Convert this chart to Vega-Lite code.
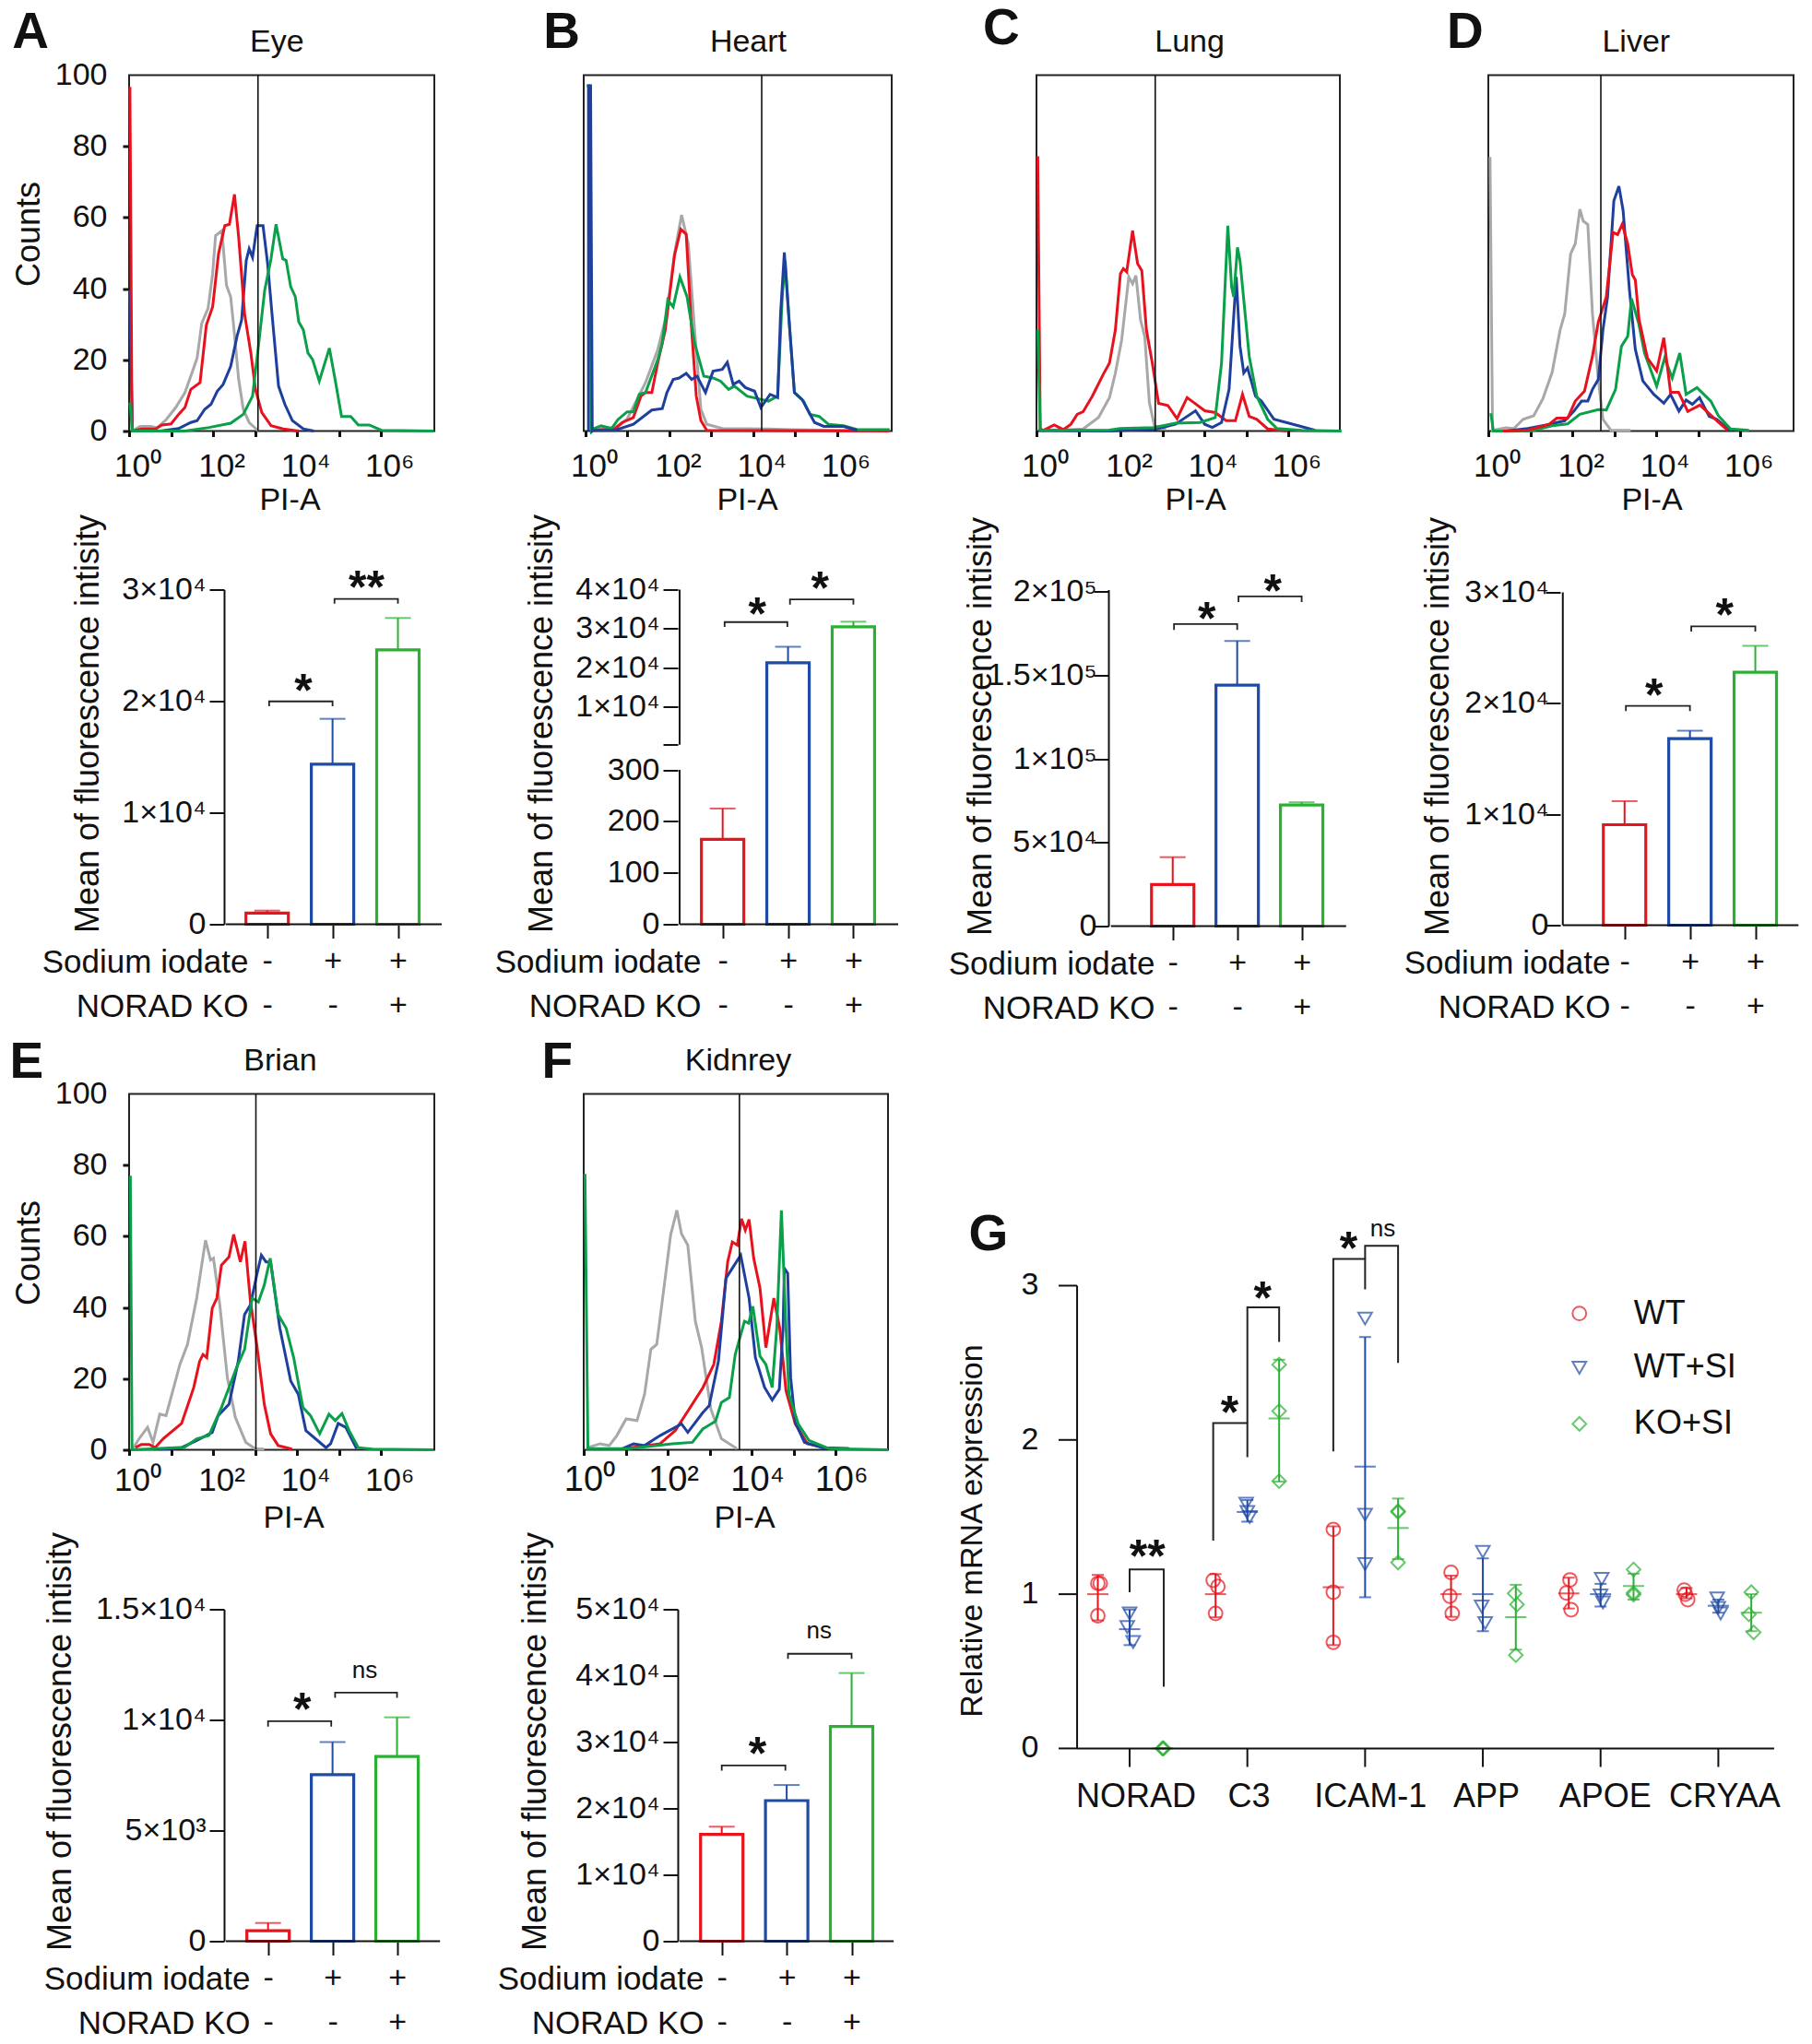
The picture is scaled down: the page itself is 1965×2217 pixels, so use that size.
{"$schema":"https://vega.github.io/schema/vega-lite/v6.json","background":"white","padding":{"left":9,"top":2.5,"right":0,"bottom":0},"columns":4,"spacing":{"row":172,"column":145},"bounds":"flush","align":"each","center":false,
"resolve":{"scale":{"color":"independent","shape":"independent"}},
"config":{"font":"Liberation Sans","view":{"stroke":null},"axis":{"grid":false,"labelOverlap":false,"labelBound":false,"labelFlush":false,"labelColor":"#111","titleColor":"#111","tickColor":"#111","domainColor":"#111","titleFontWeight":"normal"},"text":{"color":"#111"}},
"datasets":{
"eye":[{"s":"gray","x":0.08,"y":0},{"s":"gray","x":0.26,"y":1.3},{"s":"gray","x":0.52,"y":1.3},{"s":"gray","x":0.67,"y":0.9},{"s":"gray","x":0.89,"y":3.3},{"s":"gray","x":1.11,"y":6.6},{"s":"gray","x":1.33,"y":10.8},{"s":"gray","x":1.51,"y":16.8},{"s":"gray","x":1.62,"y":20.5},{"s":"gray","x":1.73,"y":30.3},{"s":"gray","x":1.88,"y":34.4},{"s":"gray","x":1.99,"y":44.2},{"s":"gray","x":2.06,"y":54.9},{"s":"gray","x":2.21,"y":56.3},{"s":"gray","x":2.32,"y":40.9},{"s":"gray","x":2.42,"y":37.7},{"s":"gray","x":2.5,"y":28.4},{"s":"gray","x":2.61,"y":14.5},{"s":"gray","x":2.72,"y":6.1},{"s":"gray","x":2.86,"y":2.4},{"s":"gray","x":3.08,"y":0},
{"s":"blue","x":0.01,"y":39.6},{"s":"blue","x":0.08,"y":0},{"s":"blue","x":0.74,"y":0},{"s":"blue","x":1.18,"y":0.7},{"s":"blue","x":1.47,"y":2.4},{"s":"blue","x":1.62,"y":2.9},{"s":"blue","x":1.8,"y":6.1},{"s":"blue","x":1.95,"y":7.5},{"s":"blue","x":2.1,"y":11.2},{"s":"blue","x":2.24,"y":13.1},{"s":"blue","x":2.42,"y":18.2},{"s":"blue","x":2.57,"y":26.6},{"s":"blue","x":2.68,"y":31.2},{"s":"blue","x":2.79,"y":47.9},{"s":"blue","x":2.86,"y":51.2},{"s":"blue","x":2.94,"y":48.8},{"s":"blue","x":3.05,"y":57.7},{"s":"blue","x":3.19,"y":57.7},{"s":"blue","x":3.3,"y":47},{"s":"blue","x":3.41,"y":32.1},{"s":"blue","x":3.56,"y":12.6},{"s":"blue","x":3.71,"y":7.5},{"s":"blue","x":3.89,"y":2.9},{"s":"blue","x":4.15,"y":0.6},{"s":"blue","x":4.4,"y":0},
{"s":"red","x":0.02,"y":96.7},{"s":"red","x":0.07,"y":0},{"s":"red","x":0.3,"y":0.6},{"s":"red","x":0.63,"y":0.6},{"s":"red","x":0.78,"y":1.7},{"s":"red","x":1,"y":2},{"s":"red","x":1.18,"y":4.7},{"s":"red","x":1.33,"y":6.6},{"s":"red","x":1.47,"y":11.7},{"s":"red","x":1.69,"y":13.6},{"s":"red","x":1.84,"y":29.8},{"s":"red","x":1.99,"y":34.9},{"s":"red","x":2.13,"y":49.8},{"s":"red","x":2.28,"y":57.7},{"s":"red","x":2.39,"y":58.1},{"s":"red","x":2.51,"y":66.5},{"s":"red","x":2.61,"y":54.4},{"s":"red","x":2.75,"y":33},{"s":"red","x":2.9,"y":21.9},{"s":"red","x":3.01,"y":11.7},{"s":"red","x":3.16,"y":5.2},{"s":"red","x":3.38,"y":1.5},{"s":"red","x":3.67,"y":0.6},{"s":"red","x":4.04,"y":0},
{"s":"green","x":0.02,"y":8},{"s":"green","x":0.08,"y":0},{"s":"green","x":1.33,"y":0},{"s":"green","x":1.91,"y":1},{"s":"green","x":2.42,"y":2.2},{"s":"green","x":2.72,"y":4.7},{"s":"green","x":2.94,"y":9.8},{"s":"green","x":3.08,"y":23.8},{"s":"green","x":3.23,"y":39.6},{"s":"green","x":3.38,"y":48.4},{"s":"green","x":3.5,"y":58.1},{"s":"green","x":3.66,"y":48.4},{"s":"green","x":3.74,"y":47.9},{"s":"green","x":3.85,"y":40.5},{"s":"green","x":3.96,"y":37.7},{"s":"green","x":4.04,"y":30.7},{"s":"green","x":4.15,"y":28.4},{"s":"green","x":4.26,"y":21.9},{"s":"green","x":4.37,"y":20.1},{"s":"green","x":4.53,"y":14},{"s":"green","x":4.77,"y":23.3},{"s":"green","x":4.92,"y":13.6},{"s":"green","x":5.06,"y":4.1},{"s":"green","x":5.28,"y":4.1},{"s":"green","x":5.46,"y":1.7},{"s":"green","x":5.72,"y":1.7},{"s":"green","x":6.01,"y":0.2},{"s":"green","x":7.26,"y":0}],
"heart":[{"s":"gray","x":0.18,"y":0.6},{"s":"gray","x":0.7,"y":1},{"s":"gray","x":0.99,"y":3.3},{"s":"gray","x":1.43,"y":13.6},{"s":"gray","x":1.72,"y":22.8},{"s":"gray","x":1.94,"y":33},{"s":"gray","x":2.12,"y":49.8},{"s":"gray","x":2.29,"y":60.7},{"s":"gray","x":2.45,"y":52.6},{"s":"gray","x":2.6,"y":28.4},{"s":"gray","x":2.75,"y":6.1},{"s":"gray","x":2.89,"y":1.9},{"s":"gray","x":3.26,"y":0.7},{"s":"gray","x":4.36,"y":0.6},{"s":"gray","x":4.87,"y":0.4},{"s":"gray","x":7.25,"y":0},
{"s":"red","x":0.18,"y":0.2},{"s":"red","x":0.7,"y":0.6},{"s":"red","x":0.88,"y":2.4},{"s":"red","x":1.14,"y":3.8},{"s":"red","x":1.32,"y":9.8},{"s":"red","x":1.43,"y":10.8},{"s":"red","x":1.58,"y":10.8},{"s":"red","x":1.72,"y":19.1},{"s":"red","x":1.9,"y":28.4},{"s":"red","x":2.12,"y":49.3},{"s":"red","x":2.27,"y":56.7},{"s":"red","x":2.4,"y":55.3},{"s":"red","x":2.53,"y":28.4},{"s":"red","x":2.64,"y":9.8},{"s":"red","x":2.75,"y":2.9},{"s":"red","x":2.89,"y":0.2},{"s":"red","x":7.25,"y":0},
{"s":"green","x":0.03,"y":97},{"s":"green","x":0.08,"y":97},{"s":"green","x":0.14,"y":0},{"s":"green","x":0.18,"y":0.6},{"s":"green","x":0.37,"y":1.5},{"s":"green","x":0.62,"y":0.7},{"s":"green","x":0.77,"y":3.2},{"s":"green","x":0.99,"y":5.4},{"s":"green","x":1.14,"y":5.4},{"s":"green","x":1.28,"y":10.3},{"s":"green","x":1.43,"y":10.8},{"s":"green","x":1.72,"y":20},{"s":"green","x":1.83,"y":24.7},{"s":"green","x":1.96,"y":36.8},{"s":"green","x":2.09,"y":34.9},{"s":"green","x":2.25,"y":43.3},{"s":"green","x":2.42,"y":37.7},{"s":"green","x":2.6,"y":24.7},{"s":"green","x":2.82,"y":15.4},{"s":"green","x":3.04,"y":14.9},{"s":"green","x":3.22,"y":14},{"s":"green","x":3.41,"y":11.7},{"s":"green","x":3.55,"y":12.6},{"s":"green","x":3.85,"y":9.8},{"s":"green","x":4.18,"y":8.9},{"s":"green","x":4.36,"y":8.4},{"s":"green","x":4.58,"y":9.8},{"s":"green","x":4.69,"y":37.7},{"s":"green","x":4.76,"y":47.9},{"s":"green","x":4.87,"y":28.4},{"s":"green","x":4.98,"y":10.8},{"s":"green","x":5.2,"y":8.4},{"s":"green","x":5.35,"y":4.7},{"s":"green","x":5.57,"y":4.1},{"s":"green","x":5.79,"y":1.9},{"s":"green","x":6.15,"y":1.5},{"s":"green","x":6.48,"y":0.4},{"s":"green","x":7.25,"y":0.4},
{"s":"blue","x":0.07,"y":0},{"s":"blue","x":0.07,"y":97},{"s":"blue","x":0.12,"y":97},{"s":"blue","x":0.16,"y":0},{"s":"blue","x":0.18,"y":0.2},{"s":"blue","x":0.7,"y":0.2},{"s":"blue","x":1.14,"y":1.9},{"s":"blue","x":1.58,"y":5.9},{"s":"blue","x":1.83,"y":6.3},{"s":"blue","x":1.94,"y":10.8},{"s":"blue","x":2.09,"y":14.5},{"s":"blue","x":2.23,"y":14.9},{"s":"blue","x":2.4,"y":16.2},{"s":"blue","x":2.53,"y":14.5},{"s":"blue","x":2.66,"y":15.4},{"s":"blue","x":2.86,"y":10.8},{"s":"blue","x":3.04,"y":16.8},{"s":"blue","x":3.26,"y":17.3},{"s":"blue","x":3.38,"y":19.3},{"s":"blue","x":3.52,"y":13.1},{"s":"blue","x":3.66,"y":14},{"s":"blue","x":3.81,"y":12.2},{"s":"blue","x":4.03,"y":11.2},{"s":"blue","x":4.18,"y":6.6},{"s":"blue","x":4.4,"y":10.3},{"s":"blue","x":4.58,"y":9.4},{"s":"blue","x":4.65,"y":33},{"s":"blue","x":4.74,"y":50.2},{"s":"blue","x":4.84,"y":33},{"s":"blue","x":4.98,"y":10.8},{"s":"blue","x":5.16,"y":8.9},{"s":"blue","x":5.46,"y":2.4},{"s":"blue","x":5.68,"y":1.3},{"s":"blue","x":6.15,"y":1.3},{"s":"blue","x":6.48,"y":0.2}],
"lung":[{"s":"gray","x":0.23,"y":0},{"s":"gray","x":1.11,"y":0.6},{"s":"gray","x":1.48,"y":3.8},{"s":"gray","x":1.74,"y":9.4},{"s":"gray","x":1.88,"y":16.3},{"s":"gray","x":2.03,"y":25.6},{"s":"gray","x":2.2,"y":43.3},{"s":"gray","x":2.29,"y":41.4},{"s":"gray","x":2.37,"y":43.7},{"s":"gray","x":2.48,"y":31.2},{"s":"gray","x":2.58,"y":26.6},{"s":"gray","x":2.69,"y":8},{"s":"gray","x":2.81,"y":1.5},{"s":"gray","x":3.09,"y":0.6},
{"s":"red","x":0.03,"y":77.2},{"s":"red","x":0.09,"y":0.6},{"s":"red","x":0.16,"y":0.2},{"s":"red","x":0.42,"y":1.7},{"s":"red","x":0.64,"y":0.4},{"s":"red","x":0.82,"y":1.9},{"s":"red","x":0.97,"y":4.7},{"s":"red","x":1.11,"y":5.4},{"s":"red","x":1.33,"y":9.8},{"s":"red","x":1.59,"y":15.9},{"s":"red","x":1.74,"y":19.1},{"s":"red","x":1.88,"y":28.4},{"s":"red","x":2,"y":44.2},{"s":"red","x":2.07,"y":45.6},{"s":"red","x":2.15,"y":44.7},{"s":"red","x":2.29,"y":56.3},{"s":"red","x":2.41,"y":47},{"s":"red","x":2.51,"y":45.1},{"s":"red","x":2.62,"y":28.4},{"s":"red","x":2.76,"y":19.1},{"s":"red","x":2.91,"y":7.8},{"s":"red","x":3.13,"y":7.2},{"s":"red","x":3.35,"y":3.5},{"s":"red","x":3.59,"y":9.4},{"s":"red","x":3.75,"y":8},{"s":"red","x":4.01,"y":5.7},{"s":"red","x":4.26,"y":5.2},{"s":"red","x":4.52,"y":2.9},{"s":"red","x":4.74,"y":2.9},{"s":"red","x":4.91,"y":10.3},{"s":"red","x":5.07,"y":4.1},{"s":"red","x":5.25,"y":3.3},{"s":"red","x":5.51,"y":0.6},{"s":"red","x":5.99,"y":0},
{"s":"blue","x":0.05,"y":0.2},{"s":"blue","x":1.7,"y":0},{"s":"blue","x":2.87,"y":0.6},{"s":"blue","x":3.31,"y":1.9},{"s":"blue","x":3.79,"y":5.7},{"s":"blue","x":4.01,"y":1.9},{"s":"blue","x":4.19,"y":1},{"s":"blue","x":4.41,"y":2.4},{"s":"blue","x":4.59,"y":11.7},{"s":"blue","x":4.76,"y":43.3},{"s":"blue","x":4.85,"y":23.8},{"s":"blue","x":4.94,"y":16.3},{"s":"blue","x":5.03,"y":17.7},{"s":"blue","x":5.22,"y":9.8},{"s":"blue","x":5.36,"y":8.4},{"s":"blue","x":5.66,"y":3.3},{"s":"blue","x":6.24,"y":1.5},{"s":"blue","x":6.64,"y":0.2},
{"s":"green","x":0.03,"y":28.4},{"s":"green","x":0.09,"y":0.2},{"s":"green","x":1.7,"y":0.2},{"s":"green","x":1.99,"y":0.7},{"s":"green","x":2.8,"y":1},{"s":"green","x":3.31,"y":2.2},{"s":"green","x":3.9,"y":2.4},{"s":"green","x":4.26,"y":3.8},{"s":"green","x":4.41,"y":19.1},{"s":"green","x":4.56,"y":57.7},{"s":"green","x":4.65,"y":40.5},{"s":"green","x":4.7,"y":37.7},{"s":"green","x":4.79,"y":51.6},{"s":"green","x":4.85,"y":47.9},{"s":"green","x":5.07,"y":21},{"s":"green","x":5.25,"y":9.8},{"s":"green","x":5.51,"y":3.3},{"s":"green","x":5.73,"y":0.7},{"s":"green","x":6.32,"y":0.2},{"s":"green","x":7.27,"y":0}],
"liver":[{"s":"gray","x":0.04,"y":77},{"s":"gray","x":0.1,"y":0.2},{"s":"gray","x":0.42,"y":0.9},{"s":"gray","x":0.61,"y":0.7},{"s":"gray","x":0.83,"y":3.3},{"s":"gray","x":1.08,"y":4.3},{"s":"gray","x":1.3,"y":9.1},{"s":"gray","x":1.52,"y":16.5},{"s":"gray","x":1.71,"y":28.4},{"s":"gray","x":1.82,"y":33},{"s":"gray","x":1.96,"y":49.8},{"s":"gray","x":2.07,"y":52.6},{"s":"gray","x":2.18,"y":62.3},{"s":"gray","x":2.26,"y":59},{"s":"gray","x":2.37,"y":58},{"s":"gray","x":2.48,"y":33},{"s":"gray","x":2.62,"y":14.5},{"s":"gray","x":2.73,"y":3.3},{"s":"gray","x":2.92,"y":0.2},{"s":"gray","x":3.39,"y":0.2},
{"s":"blue","x":0.42,"y":0},{"s":"blue","x":0.94,"y":0.7},{"s":"blue","x":1.38,"y":1.7},{"s":"blue","x":1.82,"y":2.9},{"s":"blue","x":2.04,"y":5.6},{"s":"blue","x":2.22,"y":8.4},{"s":"blue","x":2.37,"y":8.4},{"s":"blue","x":2.48,"y":11.7},{"s":"blue","x":2.62,"y":14.5},{"s":"blue","x":2.73,"y":28.4},{"s":"blue","x":2.84,"y":37.7},{"s":"blue","x":2.99,"y":64.7},{"s":"blue","x":3.11,"y":68.8},{"s":"blue","x":3.21,"y":62},{"s":"blue","x":3.36,"y":39.8},{"s":"blue","x":3.5,"y":23},{"s":"blue","x":3.68,"y":14.1},{"s":"blue","x":3.94,"y":10.3},{"s":"blue","x":4.18,"y":7.8},{"s":"blue","x":4.34,"y":10.3},{"s":"blue","x":4.54,"y":5.6},{"s":"blue","x":4.71,"y":8.7},{"s":"blue","x":4.86,"y":7.5},{"s":"blue","x":5.03,"y":9.4},{"s":"blue","x":5.26,"y":4.1},{"s":"blue","x":5.44,"y":3.3},{"s":"blue","x":5.77,"y":0},
{"s":"green","x":0.06,"y":5},{"s":"green","x":0.12,"y":0},{"s":"green","x":1.01,"y":0},{"s":"green","x":1.52,"y":1.5},{"s":"green","x":1.89,"y":2},{"s":"green","x":2.18,"y":4.7},{"s":"green","x":2.62,"y":6},{"s":"green","x":2.81,"y":5.9},{"s":"green","x":3.03,"y":11.7},{"s":"green","x":3.17,"y":23.8},{"s":"green","x":3.32,"y":26.6},{"s":"green","x":3.41,"y":37.2},{"s":"green","x":3.58,"y":30.3},{"s":"green","x":3.72,"y":21.9},{"s":"green","x":4.01,"y":12.6},{"s":"green","x":4.2,"y":20.5},{"s":"green","x":4.38,"y":14.9},{"s":"green","x":4.56,"y":21.9},{"s":"green","x":4.71,"y":10.3},{"s":"green","x":4.97,"y":12.2},{"s":"green","x":5.3,"y":8.4},{"s":"green","x":5.48,"y":4.3},{"s":"green","x":5.77,"y":0.6},{"s":"green","x":6.21,"y":0.2},
{"s":"red","x":0.35,"y":0},{"s":"red","x":0.94,"y":0.2},{"s":"red","x":1.45,"y":1.9},{"s":"red","x":1.63,"y":3.6},{"s":"red","x":1.89,"y":3.6},{"s":"red","x":2.07,"y":8.4},{"s":"red","x":2.29,"y":11.2},{"s":"red","x":2.48,"y":21},{"s":"red","x":2.62,"y":30.7},{"s":"red","x":2.81,"y":37.7},{"s":"red","x":2.97,"y":55.8},{"s":"red","x":3.08,"y":55.2},{"s":"red","x":3.19,"y":58.1},{"s":"red","x":3.32,"y":52.6},{"s":"red","x":3.43,"y":43.9},{"s":"red","x":3.5,"y":42.5},{"s":"red","x":3.59,"y":31.3},{"s":"red","x":3.79,"y":20.5},{"s":"red","x":4.01,"y":16.9},{"s":"red","x":4.18,"y":26.2},{"s":"red","x":4.34,"y":10.9},{"s":"red","x":4.53,"y":10.9},{"s":"red","x":4.75,"y":5.5},{"s":"red","x":5.04,"y":7.3},{"s":"red","x":5.26,"y":4.9},{"s":"red","x":5.48,"y":2.5},{"s":"red","x":5.7,"y":0.2}],
"brain":[{"s":"gray","x":0.07,"y":0},{"s":"gray","x":0.26,"y":3.5},{"s":"gray","x":0.44,"y":6.3},{"s":"gray","x":0.57,"y":2.1},{"s":"gray","x":0.73,"y":10},{"s":"gray","x":0.88,"y":9.6},{"s":"gray","x":1.03,"y":16.1},{"s":"gray","x":1.21,"y":24},{"s":"gray","x":1.39,"y":29.6},{"s":"gray","x":1.61,"y":42.6},{"s":"gray","x":1.82,"y":58.9},{"s":"gray","x":1.94,"y":53.3},{"s":"gray","x":2.01,"y":53.8},{"s":"gray","x":2.16,"y":40.7},{"s":"gray","x":2.34,"y":20.3},{"s":"gray","x":2.53,"y":9.1},{"s":"gray","x":2.78,"y":2.1},{"s":"gray","x":3,"y":0.3},{"s":"gray","x":3.22,"y":0.2},
{"s":"red","x":0.15,"y":0.6},{"s":"red","x":0.29,"y":1.5},{"s":"red","x":0.48,"y":1.5},{"s":"red","x":0.62,"y":0.6},{"s":"red","x":0.81,"y":3.1},{"s":"red","x":1.25,"y":7.4},{"s":"red","x":1.54,"y":17.5},{"s":"red","x":1.68,"y":24.9},{"s":"red","x":1.76,"y":26.8},{"s":"red","x":1.85,"y":25.9},{"s":"red","x":1.98,"y":39.8},{"s":"red","x":2.09,"y":42.6},{"s":"red","x":2.2,"y":51.9},{"s":"red","x":2.38,"y":54.2},{"s":"red","x":2.49,"y":60.5},{"s":"red","x":2.65,"y":52.8},{"s":"red","x":2.76,"y":58.6},{"s":"red","x":2.89,"y":41.7},{"s":"red","x":3.04,"y":29.6},{"s":"red","x":3.22,"y":12.8},{"s":"red","x":3.37,"y":4.5},{"s":"red","x":3.55,"y":1.2},{"s":"red","x":3.88,"y":0.2},
{"s":"blue","x":0.73,"y":0.2},{"s":"blue","x":1.25,"y":0.6},{"s":"blue","x":1.61,"y":2.6},{"s":"blue","x":1.98,"y":4.9},{"s":"blue","x":2.12,"y":9.6},{"s":"blue","x":2.38,"y":12.8},{"s":"blue","x":2.6,"y":24.9},{"s":"blue","x":2.75,"y":38},{"s":"blue","x":2.89,"y":40.7},{"s":"blue","x":3.04,"y":49.1},{"s":"blue","x":3.15,"y":54.7},{"s":"blue","x":3.26,"y":52.8},{"s":"blue","x":3.37,"y":52.8},{"s":"blue","x":3.59,"y":34.2},{"s":"blue","x":3.85,"y":19.3},{"s":"blue","x":4.03,"y":15.6},{"s":"blue","x":4.21,"y":5.4},{"s":"blue","x":4.69,"y":0.6},{"s":"blue","x":4.8,"y":1.7},{"s":"blue","x":4.98,"y":7.4},{"s":"blue","x":5.16,"y":6.3},{"s":"blue","x":5.42,"y":0.3},
{"s":"green","x":0.03,"y":77},{"s":"green","x":0.07,"y":0},{"s":"green","x":1.32,"y":0.7},{"s":"green","x":1.61,"y":3.1},{"s":"green","x":1.9,"y":4},{"s":"green","x":2.2,"y":11.9},{"s":"green","x":2.56,"y":23.1},{"s":"green","x":2.75,"y":28.2},{"s":"green","x":2.93,"y":42.6},{"s":"green","x":3.08,"y":41.5},{"s":"green","x":3.22,"y":46.3},{"s":"green","x":3.36,"y":53.8},{"s":"green","x":3.55,"y":38},{"s":"green","x":3.74,"y":34.2},{"s":"green","x":3.92,"y":25.9},{"s":"green","x":4.14,"y":11.9},{"s":"green","x":4.32,"y":9.6},{"s":"green","x":4.54,"y":4.5},{"s":"green","x":4.76,"y":10},{"s":"green","x":4.91,"y":8.2},{"s":"green","x":5.07,"y":10.2},{"s":"green","x":5.24,"y":5.4},{"s":"green","x":5.46,"y":0.6},{"s":"green","x":5.79,"y":0.2},{"s":"green","x":7.25,"y":0}],
"kidney":[{"s":"gray","x":0.1,"y":0.6},{"s":"gray","x":0.39,"y":1.7},{"s":"gray","x":0.61,"y":1.2},{"s":"gray","x":0.79,"y":4},{"s":"gray","x":1.01,"y":8.7},{"s":"gray","x":1.27,"y":8.2},{"s":"gray","x":1.45,"y":15.6},{"s":"gray","x":1.6,"y":28.2},{"s":"gray","x":1.74,"y":29.6},{"s":"gray","x":1.89,"y":43.5},{"s":"gray","x":2.07,"y":60.3},{"s":"gray","x":2.22,"y":67.3},{"s":"gray","x":2.33,"y":60.7},{"s":"gray","x":2.48,"y":57.5},{"s":"gray","x":2.66,"y":36.1},{"s":"gray","x":2.81,"y":28.7},{"s":"gray","x":3.03,"y":11.4},{"s":"gray","x":3.28,"y":3.1},{"s":"gray","x":3.65,"y":0.3},
{"s":"red","x":0.94,"y":0.3},{"s":"red","x":1.82,"y":1.7},{"s":"red","x":2.18,"y":5.4},{"s":"red","x":2.51,"y":11.4},{"s":"red","x":2.84,"y":17.5},{"s":"red","x":3.1,"y":24},{"s":"red","x":3.28,"y":36.1},{"s":"red","x":3.43,"y":52.8},{"s":"red","x":3.54,"y":58.4},{"s":"red","x":3.66,"y":57.5},{"s":"red","x":3.76,"y":64.9},{"s":"red","x":3.85,"y":61.7},{"s":"red","x":3.94,"y":64.7},{"s":"red","x":4.05,"y":53.8},{"s":"red","x":4.2,"y":45.4},{"s":"red","x":4.34,"y":28.7},{"s":"red","x":4.53,"y":42.6},{"s":"red","x":4.67,"y":34.2},{"s":"red","x":4.82,"y":16.6},{"s":"red","x":5.04,"y":7.3},{"s":"red","x":5.33,"y":1.7},{"s":"red","x":5.77,"y":0.6},{"s":"red","x":6.32,"y":0.4},
{"s":"blue","x":0.94,"y":0.4},{"s":"blue","x":1.19,"y":1.7},{"s":"blue","x":1.45,"y":1.2},{"s":"blue","x":1.82,"y":4},{"s":"blue","x":2.33,"y":7.3},{"s":"blue","x":2.48,"y":4.9},{"s":"blue","x":2.84,"y":10.5},{"s":"blue","x":2.99,"y":12.4},{"s":"blue","x":3.21,"y":24.9},{"s":"blue","x":3.39,"y":48.2},{"s":"blue","x":3.54,"y":51},{"s":"blue","x":3.74,"y":54.7},{"s":"blue","x":3.94,"y":42.6},{"s":"blue","x":4.09,"y":25.9},{"s":"blue","x":4.31,"y":17.5},{"s":"blue","x":4.49,"y":14},{"s":"blue","x":4.66,"y":17},{"s":"blue","x":4.75,"y":34.2},{"s":"blue","x":4.78,"y":51},{"s":"blue","x":4.86,"y":49.6},{"s":"blue","x":4.93,"y":20.3},{"s":"blue","x":5.04,"y":7.7},{"s":"blue","x":5.26,"y":2.1},{"s":"blue","x":5.77,"y":0.3},
{"s":"green","x":0.03,"y":77.5},{"s":"green","x":0.1,"y":0.3},{"s":"green","x":1.08,"y":0.3},{"s":"green","x":2.11,"y":1.7},{"s":"green","x":2.59,"y":2.1},{"s":"green","x":2.84,"y":5.9},{"s":"green","x":3.14,"y":8},{"s":"green","x":3.28,"y":13.3},{"s":"green","x":3.47,"y":14.7},{"s":"green","x":3.61,"y":26.8},{"s":"green","x":3.83,"y":36.1},{"s":"green","x":3.93,"y":35.6},{"s":"green","x":4.03,"y":40.3},{"s":"green","x":4.2,"y":26.3},{"s":"green","x":4.34,"y":24},{"s":"green","x":4.49,"y":17.5},{"s":"green","x":4.6,"y":34.2},{"s":"green","x":4.71,"y":67.3},{"s":"green","x":4.82,"y":34.2},{"s":"green","x":4.89,"y":15.6},{"s":"green","x":5.11,"y":7.3},{"s":"green","x":5.37,"y":2.6},{"s":"green","x":5.85,"y":0.3},{"s":"green","x":7.25,"y":0}],
"genePoints":[{"g":"WT","x":0.73,"y":1.07},{"g":"WT","x":0.75,"y":1.07},{"g":"WT","x":0.73,"y":0.86},{"g":"WT+SI","x":1,"y":0.875},{"g":"WT+SI","x":0.98,"y":0.787},{"g":"WT+SI","x":1.03,"y":0.69},{"g":"KO+SI","x":1.28,"y":0},{"g":"KO+SI","x":1.29,"y":0},{"g":"KO+SI","x":1.28,"y":0},
{"g":"WT","x":1.71,"y":1.09},{"g":"WT","x":1.75,"y":1.05},{"g":"WT","x":1.73,"y":0.875},{"g":"WT+SI","x":1.99,"y":1.587},{"g":"WT+SI","x":2,"y":1.533},{"g":"WT+SI","x":2.02,"y":1.5},{"g":"KO+SI","x":2.27,"y":2.488},{"g":"KO+SI","x":2.27,"y":2.187},{"g":"KO+SI","x":2.27,"y":1.733},
{"g":"WT","x":2.73,"y":1.42},{"g":"WT","x":2.73,"y":1.013},{"g":"WT","x":2.73,"y":0.688},{"g":"WT+SI","x":3,"y":2.787},{"g":"WT+SI","x":3,"y":1.515},{"g":"WT+SI","x":3,"y":1.195},{"g":"KO+SI","x":3.28,"y":1.539},{"g":"KO+SI","x":3.28,"y":1.533},{"g":"KO+SI","x":3.28,"y":1.205},
{"g":"WT","x":3.73,"y":1.141},{"g":"WT","x":3.72,"y":0.987},{"g":"WT","x":3.74,"y":0.875},{"g":"WT+SI","x":4,"y":1.275},{"g":"WT+SI","x":3.99,"y":0.92},{"g":"WT+SI","x":4.02,"y":0.813},{"g":"KO+SI","x":4.27,"y":1.005},{"g":"KO+SI","x":4.29,"y":0.933},{"g":"KO+SI","x":4.28,"y":0.605},
{"g":"WT","x":4.74,"y":1.093},{"g":"WT","x":4.71,"y":1.008},{"g":"WT","x":4.75,"y":0.899},{"g":"WT+SI","x":5.01,"y":1.099},{"g":"WT+SI","x":5,"y":0.992},{"g":"WT+SI","x":5.02,"y":0.947},{"g":"KO+SI","x":5.28,"y":1.16},{"g":"KO+SI","x":5.28,"y":1.008},{"g":"KO+SI","x":5.28,"y":0.997},
{"g":"WT","x":5.71,"y":1.027},{"g":"WT","x":5.72,"y":1},{"g":"WT","x":5.74,"y":0.965},{"g":"WT+SI","x":5.99,"y":0.973},{"g":"WT+SI","x":6,"y":0.912},{"g":"WT+SI","x":6.02,"y":0.875},{"g":"KO+SI","x":6.28,"y":1.013},{"g":"KO+SI","x":6.26,"y":0.869},{"g":"KO+SI","x":6.3,"y":0.752},
{"g":"WT","x":4.82,"y":2.82},{"g":"WT+SI","x":4.82,"y":2.468},{"g":"KO+SI","x":4.82,"y":2.104}],
"geneStats":[{"g":"WT","x":0.73,"m":1,"lo":0.83,"hi":1.125},{"g":"WT+SI","x":1,"m":0.773,"lo":0.67,"hi":0.9},{"g":"KO+SI","x":1.28,"m":0,"lo":0,"hi":0},
{"g":"WT","x":1.73,"m":1,"lo":0.85,"hi":1.13},{"g":"WT+SI","x":2,"m":1.533,"lo":1.47,"hi":1.61},{"g":"KO+SI","x":2.27,"m":2.139,"lo":1.73,"hi":2.52},
{"g":"WT","x":2.73,"m":1.045,"lo":0.67,"hi":1.44},{"g":"WT+SI","x":3,"m":1.827,"lo":0.98,"hi":2.667},{"g":"KO+SI","x":3.28,"m":1.429,"lo":1.227,"hi":1.62},
{"g":"WT","x":3.73,"m":1,"lo":0.853,"hi":1.12},{"g":"WT+SI","x":4,"m":1,"lo":0.76,"hi":1.232},{"g":"KO+SI","x":4.28,"m":0.851,"lo":0.64,"hi":1.061},
{"g":"WT","x":4.73,"m":1.005,"lo":0.907,"hi":1.107},{"g":"WT+SI","x":5,"m":1,"lo":0.92,"hi":1.067},{"g":"KO+SI","x":5.28,"m":1.053,"lo":0.965,"hi":1.133},
{"g":"WT","x":5.73,"m":1,"lo":0.973,"hi":1.04},{"g":"WT+SI","x":6,"m":0.925,"lo":0.88,"hi":0.965},{"g":"KO+SI","x":6.28,"m":0.88,"lo":0.76,"hi":1}],
"geneBrackets":[{"b":1,"i":1,"x":1,"y":1.013},{"b":1,"i":2,"x":1,"y":1.16},{"b":1,"i":3,"x":1.29,"y":1.16},{"b":1,"i":4,"x":1.29,"y":0.4},
{"b":2,"i":1,"x":1.71,"y":1.347},{"b":2,"i":2,"x":1.71,"y":2.109},{"b":2,"i":3,"x":2,"y":2.109},{"b":2,"i":4,"x":2,"y":1.888},
{"b":3,"i":1,"x":2,"y":2.109},{"b":3,"i":2,"x":2,"y":2.859},{"b":3,"i":3,"x":2.27,"y":2.859},{"b":3,"i":4,"x":2.27,"y":2.635},
{"b":4,"i":1,"x":2.73,"y":1.925},{"b":4,"i":2,"x":2.73,"y":3.173},{"b":4,"i":3,"x":3,"y":3.173},{"b":4,"i":4,"x":3,"y":2.976},
{"b":5,"i":1,"x":3,"y":3.173},{"b":5,"i":2,"x":3,"y":3.259},{"b":5,"i":3,"x":3.28,"y":3.259},{"b":5,"i":4,"x":3.28,"y":2.499}]
},
"concat":[
{"width":331,"height":386,"view":{"stroke":"#222","strokeWidth":2},"layer":[
{"data":{"name":"eye"},"mark":{"type":"line","strokeWidth":3},"encoding":{"x":{"field":"x","type":"quantitative","scale":{"domain":[0,7.27],"nice":false,"zero":false},"axis":{"values":[0,1,2,3,4,5,6],"domain":false,"tickSize":6,"tickWidth":3,"labelFontSize":35,"labelOffset":9,"labelPadding":15,"labelExpr":"datum.value==0?'10⁰':datum.value==2?'10²':datum.value==4?'10⁴':datum.value==6?'10⁶':''","title":"PI-A","titleFontSize":34,"titleX":174,"titleY":75,"titleBaseline":"middle"}},"y":{"field":"y","type":"quantitative","scale":{"domain":[0,100],"nice":false},"axis":{"values":[0,20,40,60,80,100],"domain":false,"tickSize":7,"tickWidth":3,"tickOpacity":{"condition":{"test":"datum.value==100","value":0},"value":1},"labelFontSize":34,"labelPadding":17,"title":"Counts","titleFontSize":36,"titleX":-109,"titleY":172,"titleBaseline":"middle"}},"color":{"field":"s","type":"nominal","legend":null,"scale":{"domain":["gray","red","blue","green"],"range":["#a8a8a8","#e8121e","#1f3f9e","#0aa04a"]}}}},
{"data":{"values":[{"gate":3.07}]},"mark":{"type":"rule","color":"#111","strokeWidth":1.6},"encoding":{"x":{"field":"gate","type":"quantitative"}}},
{"data":{"values":[{"x":3.52,"y":109.3,"t":"Eye"}]},"mark":{"type":"text","fontSize":34,"baseline":"middle"},"encoding":{"x":{"field":"x","type":"quantitative"},"y":{"field":"y","type":"quantitative"},"text":{"field":"t"}}},
{"data":{"values":[{"x":-2.35,"y":112,"t":"A"}]},"mark":{"type":"text","fontWeight":"bold","fontSize":55,"baseline":"middle"},"encoding":{"x":{"field":"x","type":"quantitative"},"y":{"field":"y","type":"quantitative"},"text":{"field":"t"}}}]},
{"width":334,"height":386,"view":{"stroke":"#222","strokeWidth":2},"layer":[
{"data":{"name":"heart"},"mark":{"type":"line","strokeWidth":3},"encoding":{"x":{"field":"x","type":"quantitative","scale":{"domain":[-0.044,7.3],"nice":false,"zero":false},"axis":{"values":[0,1,2,3,4,5,6],"domain":false,"tickSize":6,"tickWidth":3,"labelFontSize":35,"labelOffset":9,"labelPadding":15,"labelExpr":"datum.value==0?'10⁰':datum.value==2?'10²':datum.value==4?'10⁴':datum.value==6?'10⁶':''","title":"PI-A","titleFontSize":34,"titleX":177,"titleY":75,"titleBaseline":"middle"}},"y":{"field":"y","type":"quantitative","scale":{"domain":[0,100],"nice":false},"axis":null},"color":{"field":"s","type":"nominal","legend":null,"scale":{"domain":["gray","red","blue","green"],"range":["#a8a8a8","#e8121e","#1f3f9e","#0aa04a"]}}}},
{"data":{"values":[{"gate":4.2}]},"mark":{"type":"rule","color":"#111","strokeWidth":1.6},"encoding":{"x":{"field":"gate","type":"quantitative"}}},
{"data":{"values":[{"x":3.88,"y":109.3,"t":"Heart"}]},"mark":{"type":"text","fontSize":34,"baseline":"middle"},"encoding":{"x":{"field":"x","type":"quantitative"},"y":{"field":"y","type":"quantitative"},"text":{"field":"t"}}},
{"data":{"values":[{"x":-0.57,"y":112,"t":"B"}]},"mark":{"type":"text","fontWeight":"bold","fontSize":55,"baseline":"middle"},"encoding":{"x":{"field":"x","type":"quantitative"},"y":{"field":"y","type":"quantitative"},"text":{"field":"t"}}}]},
{"width":329,"height":386,"view":{"stroke":"#222","strokeWidth":2},"layer":[
{"data":{"name":"lung"},"mark":{"type":"line","strokeWidth":3},"encoding":{"x":{"field":"x","type":"quantitative","scale":{"domain":[0,7.23],"nice":false,"zero":false},"axis":{"values":[0,1,2,3,4,5,6],"domain":false,"tickSize":6,"tickWidth":3,"labelFontSize":35,"labelOffset":9,"labelPadding":15,"labelExpr":"datum.value==0?'10⁰':datum.value==2?'10²':datum.value==4?'10⁴':datum.value==6?'10⁶':''","title":"PI-A","titleFontSize":34,"titleX":172,"titleY":75,"titleBaseline":"middle"}},"y":{"field":"y","type":"quantitative","scale":{"domain":[0,100],"nice":false},"axis":null},"color":{"field":"s","type":"nominal","legend":null,"scale":{"domain":["gray","red","blue","green"],"range":["#a8a8a8","#e8121e","#1f3f9e","#0aa04a"]}}}},
{"data":{"values":[{"gate":2.83}]},"mark":{"type":"rule","color":"#111","strokeWidth":1.6},"encoding":{"x":{"field":"gate","type":"quantitative"}}},
{"data":{"values":[{"x":3.65,"y":109.3,"t":"Lung"}]},"mark":{"type":"text","fontSize":34,"baseline":"middle"},"encoding":{"x":{"field":"x","type":"quantitative"},"y":{"field":"y","type":"quantitative"},"text":{"field":"t"}}},
{"data":{"values":[{"x":-0.84,"y":113.1,"t":"C"}]},"mark":{"type":"text","fontWeight":"bold","fontSize":55,"baseline":"middle"},"encoding":{"x":{"field":"x","type":"quantitative"},"y":{"field":"y","type":"quantitative"},"text":{"field":"t"}}}]},
{"width":331,"height":386,"view":{"stroke":"#222","strokeWidth":2},"layer":[
{"data":{"name":"liver"},"mark":{"type":"line","strokeWidth":3},"encoding":{"x":{"field":"x","type":"quantitative","scale":{"domain":[0,7.27],"nice":false,"zero":false},"axis":{"values":[0,1,2,3,4,5,6],"domain":false,"tickSize":6,"tickWidth":3,"labelFontSize":35,"labelOffset":9,"labelPadding":15,"labelExpr":"datum.value==0?'10⁰':datum.value==2?'10²':datum.value==4?'10⁴':datum.value==6?'10⁶':''","title":"PI-A","titleFontSize":34,"titleX":177,"titleY":75,"titleBaseline":"middle"}},"y":{"field":"y","type":"quantitative","scale":{"domain":[0,100],"nice":false},"axis":null},"color":{"field":"s","type":"nominal","legend":null,"scale":{"domain":["gray","red","blue","green"],"range":["#a8a8a8","#e8121e","#1f3f9e","#0aa04a"]}}}},
{"data":{"values":[{"gate":2.68}]},"mark":{"type":"rule","color":"#111","strokeWidth":1.6},"encoding":{"x":{"field":"gate","type":"quantitative"}}},
{"data":{"values":[{"x":3.52,"y":109.3,"t":"Liver"}]},"mark":{"type":"text","fontSize":34,"baseline":"middle"},"encoding":{"x":{"field":"x","type":"quantitative"},"y":{"field":"y","type":"quantitative"},"text":{"field":"t"}}},
{"data":{"values":[{"x":-0.55,"y":112,"t":"D"}]},"mark":{"type":"text","fontWeight":"bold","fontSize":55,"baseline":"middle"},"encoding":{"x":{"field":"x","type":"quantitative"},"y":{"field":"y","type":"quantitative"},"text":{"field":"t"}}}]},

{"width":348,"height":363,"data":{"values":[{"x":1,"group":"ctrl","mean":1000,"hi":1225},{"x":2,"group":"si","mean":14350,"hi":18416},{"x":3,"group":"ko","mean":24600,"hi":27456}]},"encoding":{"x":{"field":"x","type":"quantitative","scale":{"domain":[-1.041,3.726],"nice":false,"zero":false},"axis":{"values":[1,2,3],"domain":false,"tickWidth":2,"tickSize":15,"labelFontSize":34,"labelLineHeight":48,"labelPadding":8,"labelExpr":"datum.value==1?['-','-']:datum.value==2?['+','-']:['+','+']","title":["Sodium iodate","NORAD KO"],"titleFontSize":35,"titleLineHeight":48,"titleAlign":"right","titleBaseline":"top","titleX":129,"titleY":24}},"y":{"field":"mean","type":"quantitative","stack":null,"scale":{"domain":[0,30000],"nice":false},"axis":{"offset":-103,"values":[0,10000,20000,30000],"domainWidth":2,"tickWidth":2,"tickSize":16,"labelFontSize":34,"labelPadding":4,"labelExpr":"datum.value==0?'0':(datum.value/10000)+'×10⁴'","title":"Mean of fluorescence intisity","titleFontSize":36,"titleX":-148,"titleY":145,"titleBaseline":"middle"}},"color":{"field":"group","type":"nominal","legend":null,"scale":{"domain":["ctrl","si","ko"],"range":["#e8141c","#1f4aa5","#2bb033"]}}},"layer":[
{"mark":{"type":"rule","strokeWidth":2},"encoding":{"y2":{"field":"hi"}}},
{"mark":{"type":"tick","orient":"horizontal","size":28,"thickness":2},"encoding":{"y":{"field":"hi","type":"quantitative"}}},
{"mark":{"type":"bar","filled":false,"orient":"vertical","size":46,"strokeWidth":3.2}},
{"data":{"values":[{"start":0.37,"end":3.67,"y":0}]},"mark":{"type":"rule","strokeWidth":2},"encoding":{"x":{"field":"start","type":"quantitative"},"x2":{"field":"end"},"y":{"field":"y","type":"quantitative"},"color":{"value":"#111"}}},
{"data":{"values":[{"b":1,"i":1,"x":1.03,"y":19550},{"b":1,"i":2,"x":1.03,"y":19980},{"b":1,"i":3,"x":2,"y":19980},{"b":1,"i":4,"x":2,"y":19550},{"b":2,"i":1,"x":2.03,"y":28740},{"b":2,"i":2,"x":2.03,"y":29170},{"b":2,"i":3,"x":3,"y":29170},{"b":2,"i":4,"x":3,"y":28740}]},"mark":{"type":"line","strokeWidth":1.8},"encoding":{"x":{"field":"x","type":"quantitative"},"y":{"field":"y","type":"quantitative"},"detail":{"field":"b"},"order":{"field":"i"},"color":{"value":"#222"}}},
{"data":{"values":[{"x":1.555,"y":21757,"t":"*"},{"x":2.52,"y":31000,"t":"**"}]},"mark":{"type":"text","fontSize":50,"fontWeight":"bold","baseline":"middle","dy":12},"encoding":{"x":{"field":"x","type":"quantitative"},"y":{"field":"y","type":"quantitative"},"text":{"field":"t"},"color":{"value":"#111"}}}]},
{"width":346,"height":363,"data":{"values":[{"x":1,"group":"ctrl","mean":165,"hi":225},{"x":2,"group":"si","mean":21310,"hi":25400},{"x":3,"group":"ko","mean":30500,"hi":31800}]},"encoding":{"x":{"field":"x","type":"quantitative","scale":{"domain":[-1.055,3.685],"nice":false,"zero":false},"axis":{"values":[1,2,3],"domain":false,"tickWidth":2,"tickSize":15,"labelFontSize":34,"labelLineHeight":48,"labelPadding":8,"labelExpr":"datum.value==1?['-','-']:datum.value==2?['+','-']:['+','+']","title":["Sodium iodate","NORAD KO"],"titleFontSize":35,"titleLineHeight":48,"titleAlign":"right","titleBaseline":"top","titleX":127,"titleY":24}},"y":{"field":"mean","type":"quantitative","stack":null,"scale":{"domain":[0,300,400,40000],"range":[363,195.6,168.2,0],"nice":false},"axis":{"offset":-102,"values":[0,100,200,300,400,10000,20000,30000,40000],"domain":false,"tickWidth":2,"tickSize":16,"labelFontSize":34,"labelPadding":4,"labelExpr":"datum.value==400?'':datum.value<1000?''+datum.value:(datum.value/10000)+'×10⁴'","title":"Mean of fluorescence intisity","titleFontSize":36,"titleX":-148,"titleY":145,"titleBaseline":"middle"}},"color":{"field":"group","type":"nominal","legend":null,"scale":{"domain":["ctrl","si","ko"],"range":["#e8141c","#1f4aa5","#2bb033"]}}},"layer":[
{"mark":{"type":"rule","strokeWidth":2},"encoding":{"y2":{"field":"hi"}}},
{"mark":{"type":"tick","orient":"horizontal","size":28,"thickness":2},"encoding":{"y":{"field":"hi","type":"quantitative"}}},
{"mark":{"type":"bar","filled":false,"orient":"vertical","size":46,"strokeWidth":3.2}},
{"data":{"values":[{"start":0.342,"end":3.685,"y":0}]},"mark":{"type":"rule","strokeWidth":2},"encoding":{"x":{"field":"start","type":"quantitative"},"x2":{"field":"end"},"y":{"field":"y","type":"quantitative"},"color":{"value":"#111"}}},
{"data":{"values":[{"from":0,"to":300,"x":0.342},{"from":400,"to":40000,"x":0.342}]},"mark":{"type":"rule","strokeWidth":2},"encoding":{"x":{"field":"x","type":"quantitative"},"y":{"field":"from","type":"quantitative"},"y2":{"field":"to"},"color":{"value":"#111"}}},
{"data":{"values":[{"b":1,"i":1,"x":1.03,"y":30480},{"b":1,"i":2,"x":1.03,"y":31700},{"b":1,"i":3,"x":1.99,"y":31700},{"b":1,"i":4,"x":1.99,"y":30480},{"b":2,"i":1,"x":2.03,"y":36200},{"b":2,"i":2,"x":2.03,"y":37510},{"b":2,"i":3,"x":3,"y":37510},{"b":2,"i":4,"x":3,"y":36200}]},"mark":{"type":"line","strokeWidth":1.8},"encoding":{"x":{"field":"x","type":"quantitative"},"y":{"field":"y","type":"quantitative"},"detail":{"field":"b"},"order":{"field":"i"},"color":{"value":"#222"}}},
{"data":{"values":[{"x":1.53,"y":36000,"t":"*"},{"x":2.49,"y":42750,"t":"*"}]},"mark":{"type":"text","fontSize":50,"fontWeight":"bold","baseline":"middle","dy":12},"encoding":{"x":{"field":"x","type":"quantitative"},"y":{"field":"y","type":"quantitative"},"text":{"field":"t"},"color":{"value":"#111"}}}]},
{"width":345,"height":365,"data":{"values":[{"x":1,"group":"ctrl","mean":24900,"hi":41200},{"x":2,"group":"si","mean":144000,"hi":170400},{"x":3,"group":"ko","mean":72400,"hi":74000}]},"encoding":{"x":{"field":"x","type":"quantitative","scale":{"domain":[-1.042,3.75],"nice":false,"zero":false},"axis":{"values":[1,2,3],"domain":false,"tickWidth":2,"tickSize":15,"labelFontSize":34,"labelLineHeight":48,"labelPadding":8,"labelExpr":"datum.value==1?['-','-']:datum.value==2?['+','-']:['+','+']","title":["Sodium iodate","NORAD KO"],"titleFontSize":35,"titleLineHeight":48,"titleAlign":"right","titleBaseline":"top","titleX":128,"titleY":24}},"y":{"field":"mean","type":"quantitative","stack":null,"scale":{"domain":[0,201102],"nice":false},"axis":{"offset":-78,"values":[0,50000,100000,150000,200000],"domainWidth":2,"tickWidth":2,"tickSize":16,"labelFontSize":34,"labelPadding":-3,"labelExpr":"datum.value==0?'0':datum.value==50000?'5×10⁴':(datum.value/100000)+'×10⁵'","title":"Mean of fluorescence intisity","titleFontSize":36,"titleX":-139,"titleY":148,"titleBaseline":"middle"}},"color":{"field":"group","type":"nominal","legend":null,"scale":{"domain":["ctrl","si","ko"],"range":["#e8141c","#1f4aa5","#2bb033"]}}},"layer":[
{"mark":{"type":"rule","strokeWidth":2},"encoding":{"y2":{"field":"hi"}}},
{"mark":{"type":"tick","orient":"horizontal","size":28,"thickness":2},"encoding":{"y":{"field":"hi","type":"quantitative"}}},
{"mark":{"type":"bar","filled":false,"orient":"vertical","size":46,"strokeWidth":3.2}},
{"data":{"values":[{"start":0.042,"end":3.69,"y":0}]},"mark":{"type":"rule","strokeWidth":2},"encoding":{"x":{"field":"start","type":"quantitative"},"x2":{"field":"end"},"y":{"field":"y","type":"quantitative"},"color":{"value":"#111"}}},
{"data":{"values":[{"b":1,"i":1,"x":1.02,"y":177000},{"b":1,"i":2,"x":1.02,"y":180500},{"b":1,"i":3,"x":2,"y":180500},{"b":1,"i":4,"x":2,"y":177000},{"b":2,"i":1,"x":2.02,"y":193700},{"b":2,"i":2,"x":2.02,"y":197000},{"b":2,"i":3,"x":3,"y":197000},{"b":2,"i":4,"x":3,"y":193700}]},"mark":{"type":"line","strokeWidth":1.8},"encoding":{"x":{"field":"x","type":"quantitative"},"y":{"field":"y","type":"quantitative"},"detail":{"field":"b"},"order":{"field":"i"},"color":{"value":"#222"}}},
{"data":{"values":[{"x":1.53,"y":189000,"t":"*"},{"x":2.55,"y":206000,"t":"*"}]},"mark":{"type":"text","fontSize":50,"fontWeight":"bold","baseline":"middle","dy":12},"encoding":{"x":{"field":"x","type":"quantitative"},"y":{"field":"y","type":"quantitative"},"text":{"field":"t"},"color":{"value":"#111"}}}]},
{"width":345,"height":375,"data":{"values":[{"x":1,"group":"ctrl","mean":9060,"hi":11180},{"x":2,"group":"si","mean":16820,"hi":17530},{"x":3,"group":"ko","mean":22800,"hi":25180}]},"encoding":{"x":{"field":"x","type":"quantitative","scale":{"domain":[-1.014,3.712],"nice":false,"zero":false},"axis":{"offset":-11,"values":[1,2,3],"domain":false,"tickWidth":2,"tickSize":15,"labelFontSize":34,"labelLineHeight":48,"labelPadding":8,"labelExpr":"datum.value==1?['-','-']:datum.value==2?['+','-']:['+','+']","title":["Sodium iodate","NORAD KO"],"titleFontSize":35,"titleLineHeight":48,"titleAlign":"right","titleBaseline":"top","titleX":132,"titleY":24}},"y":{"field":"mean","type":"quantitative","stack":null,"scale":{"domain":[-914,30249],"nice":false,"zero":false},"axis":{"offset":-78,"values":[0,10000,20000,30000],"domain":false,"tickWidth":2,"tickSize":16,"labelFontSize":34,"labelPadding":-3,"labelExpr":"datum.value==0?'0':(datum.value/10000)+'×10⁴'","title":"Mean of fluorescence intisity","titleFontSize":36,"titleX":-133,"titleY":148,"titleBaseline":"middle"}},"color":{"field":"group","type":"nominal","legend":null,"scale":{"domain":["ctrl","si","ko"],"range":["#e8141c","#1f4aa5","#2bb033"]}}},"layer":[
{"mark":{"type":"rule","strokeWidth":2},"encoding":{"y2":{"field":"hi"}}},
{"mark":{"type":"tick","orient":"horizontal","size":28,"thickness":2},"encoding":{"y":{"field":"hi","type":"quantitative"}}},
{"mark":{"type":"bar","filled":false,"orient":"vertical","size":46,"strokeWidth":3.2}},
{"data":{"values":[{"start":0.055,"end":3.66,"y":0},{"start":0.055,"y":0,"y2":30000}]},"mark":{"type":"rule","strokeWidth":2},"encoding":{"x":{"field":"start","type":"quantitative"},"x2":{"field":"end"},"y":{"field":"y","type":"quantitative"},"y2":{"field":"y2"},"color":{"value":"#111"}}},
{"data":{"values":[{"b":1,"i":1,"x":1.02,"y":19300},{"b":1,"i":2,"x":1.02,"y":19760},{"b":1,"i":3,"x":2,"y":19760},{"b":1,"i":4,"x":2,"y":19300},{"b":2,"i":1,"x":2.02,"y":26470},{"b":2,"i":2,"x":2.02,"y":26940},{"b":2,"i":3,"x":3,"y":26940},{"b":2,"i":4,"x":3,"y":26470}]},"mark":{"type":"line","strokeWidth":1.8},"encoding":{"x":{"field":"x","type":"quantitative"},"y":{"field":"y","type":"quantitative"},"detail":{"field":"b"},"order":{"field":"i"},"color":{"value":"#222"}}},
{"data":{"values":[{"x":1.45,"y":21530,"t":"*"},{"x":2.53,"y":28800,"t":"*"}]},"mark":{"type":"text","fontSize":50,"fontWeight":"bold","baseline":"middle","dy":12},"encoding":{"x":{"field":"x","type":"quantitative"},"y":{"field":"y","type":"quantitative"},"text":{"field":"t"},"color":{"value":"#111"}}}]},

{"width":331,"height":386,"view":{"stroke":"#222","strokeWidth":2},"layer":[
{"data":{"name":"brain"},"mark":{"type":"line","strokeWidth":3},"encoding":{"x":{"field":"x","type":"quantitative","scale":{"domain":[0,7.27],"nice":false,"zero":false},"axis":{"values":[0,1,2,3,4,5,6],"domain":false,"tickSize":6,"tickWidth":3,"labelFontSize":35,"labelOffset":9,"labelPadding":10,"labelExpr":"datum.value==0?'10⁰':datum.value==2?'10²':datum.value==4?'10⁴':datum.value==6?'10⁶':''","title":"PI-A","titleFontSize":34,"titleX":178,"titleY":74,"titleBaseline":"middle"}},"y":{"field":"y","type":"quantitative","scale":{"domain":[0,100],"nice":false},"axis":{"values":[0,20,40,60,80,100],"domain":false,"tickSize":7,"tickWidth":3,"tickOpacity":{"condition":{"test":"datum.value==100","value":0},"value":1},"labelFontSize":34,"labelPadding":17,"title":"Counts","titleFontSize":36,"titleX":-109,"titleY":172,"titleBaseline":"middle"}},"color":{"field":"s","type":"nominal","legend":null,"scale":{"domain":["gray","red","blue","green"],"range":["#a8a8a8","#e8121e","#1f3f9e","#0aa04a"]}}}},
{"data":{"values":[{"gate":3.02}]},"mark":{"type":"rule","color":"#111","strokeWidth":1.6},"encoding":{"x":{"field":"gate","type":"quantitative"}}},
{"data":{"values":[{"x":3.6,"y":109.3,"t":"Brian"}]},"mark":{"type":"text","fontSize":34,"baseline":"middle"},"encoding":{"x":{"field":"x","type":"quantitative"},"y":{"field":"y","type":"quantitative"},"text":{"field":"t"}}},
{"data":{"values":[{"x":-2.44,"y":109,"t":"E"}]},"mark":{"type":"text","fontWeight":"bold","fontSize":55,"baseline":"middle"},"encoding":{"x":{"field":"x","type":"quantitative"},"y":{"field":"y","type":"quantitative"},"text":{"field":"t"}}}]},
{"width":330,"height":386,"view":{"stroke":"#222","strokeWidth":2},"layer":[
{"data":{"name":"kidney"},"mark":{"type":"line","strokeWidth":3},"encoding":{"x":{"field":"x","type":"quantitative","scale":{"domain":[0,7.25],"nice":false,"zero":false},"axis":{"values":[0,1,2,3,4,5,6],"domain":false,"tickSize":6,"tickWidth":3,"labelFontSize":38,"labelOffset":6,"labelPadding":8,"labelExpr":"datum.value==0?'10⁰':datum.value==2?'10²':datum.value==4?'10⁴':datum.value==6?'10⁶':''","title":"PI-A","titleFontSize":34,"titleX":174,"titleY":74,"titleBaseline":"middle"}},"y":{"field":"y","type":"quantitative","scale":{"domain":[0,100],"nice":false},"axis":null},"color":{"field":"s","type":"nominal","legend":null,"scale":{"domain":["gray","red","blue","green"],"range":["#a8a8a8","#e8121e","#1f3f9e","#0aa04a"]}}}},
{"data":{"values":[{"gate":3.71}]},"mark":{"type":"rule","color":"#111","strokeWidth":1.6},"encoding":{"x":{"field":"gate","type":"quantitative"}}},
{"data":{"values":[{"x":3.68,"y":109.3,"t":"Kidnrey"}]},"mark":{"type":"text","fontSize":34,"baseline":"middle"},"encoding":{"x":{"field":"x","type":"quantitative"},"y":{"field":"y","type":"quantitative"},"text":{"field":"t"}}},
{"data":{"values":[{"x":-0.63,"y":109,"t":"F"}]},"mark":{"type":"text","fontWeight":"bold","fontSize":55,"baseline":"middle"},"encoding":{"x":{"field":"x","type":"quantitative"},"y":{"field":"y","type":"quantitative"},"text":{"field":"t"}}}]},
{"width":345,"height":387,"layer":[
{"data":{"name":"geneStats"},"mark":{"type":"rule","strokeWidth":2},"encoding":{"x":{"field":"x","type":"quantitative","scale":{"domain":[0.209,2.911],"nice":false,"zero":false},"axis":null},"y":{"field":"lo","type":"quantitative","scale":{"domain":[1.93,4.243],"nice":false,"zero":false},"axis":null},"y2":{"field":"hi"},"color":{"field":"g","type":"nominal","legend":null,"scale":{"domain":["WT","WT+SI","KO+SI"],"range":["#e8141c","#1f4aa5","#2bb033"]}}}},
{"data":{"name":"geneStats"},"mark":{"type":"tick","orient":"horizontal","size":13,"thickness":2},"encoding":{"x":{"field":"x","type":"quantitative"},"y":{"field":"lo","type":"quantitative"},"color":{"field":"g","type":"nominal","legend":null}}},
{"data":{"name":"geneStats"},"mark":{"type":"tick","orient":"horizontal","size":13,"thickness":2},"encoding":{"x":{"field":"x","type":"quantitative"},"y":{"field":"hi","type":"quantitative"},"color":{"field":"g","type":"nominal","legend":null}}},
{"data":{"name":"geneStats"},"mark":{"type":"tick","orient":"horizontal","size":23,"thickness":2},"encoding":{"x":{"field":"x","type":"quantitative"},"y":{"field":"m","type":"quantitative"},"color":{"field":"g","type":"nominal","legend":null}}},
{"data":{"name":"genePoints"},"mark":{"type":"point","filled":false,"size":220,"strokeWidth":2},"encoding":{"x":{"field":"x","type":"quantitative"},"y":{"field":"y","type":"quantitative"},"color":{"field":"g","type":"nominal","legend":null},"shape":{"field":"g","type":"nominal","legend":null,"scale":{"domain":["WT","WT+SI","KO+SI"],"range":["circle","triangle-down","diamond"]}}}},
{"data":{"values":[{"x":5.283,"y":2.82,"t":"WT"},{"x":5.283,"y":2.468,"t":"WT+SI"},{"x":5.283,"y":2.104,"t":"KO+SI"}]},"mark":{"type":"text","fontSize":36,"align":"left","baseline":"middle","color":"#111"},"encoding":{"x":{"field":"x","type":"quantitative"},"y":{"field":"y","type":"quantitative"},"text":{"field":"t"}}},
{"data":{"values":[{"s":0.554,"e":6.474,"y":0}]},"mark":{"type":"rule","strokeWidth":2,"color":"#111"},"encoding":{"x":{"field":"s","type":"quantitative"},"x2":{"field":"e"},"y":{"field":"y","type":"quantitative"}}},
{"data":{"values":[{"s":0.554,"y":0,"y2":3}]},"mark":{"type":"rule","strokeWidth":2,"color":"#111"},"encoding":{"x":{"field":"s","type":"quantitative"},"y":{"field":"y","type":"quantitative"},"y2":{"field":"y2"}}},
{"data":{"values":[{"s":0.397,"e":0.554,"y":0},{"s":0.397,"e":0.554,"y":1},{"s":0.397,"e":0.554,"y":2},{"s":0.397,"e":0.554,"y":3}]},"mark":{"type":"rule","strokeWidth":2,"color":"#111"},"encoding":{"x":{"field":"s","type":"quantitative"},"x2":{"field":"e"},"y":{"field":"y","type":"quantitative"}}},
{"data":{"values":[{"x":1,"y":0,"y2":-0.12},{"x":2,"y":0,"y2":-0.12},{"x":3,"y":0,"y2":-0.12},{"x":4,"y":0,"y2":-0.12},{"x":5,"y":0,"y2":-0.12},{"x":6,"y":0,"y2":-0.12}]},"mark":{"type":"rule","strokeWidth":2,"color":"#111"},"encoding":{"x":{"field":"x","type":"quantitative"},"y":{"field":"y","type":"quantitative"},"y2":{"field":"y2"}}},
{"data":{"values":[{"x":1.055,"y":-0.317,"t":"NORAD"},{"x":2.015,"y":-0.317,"t":"C3"},{"x":3.047,"y":-0.317,"t":"ICAM-1"},{"x":4.031,"y":-0.317,"t":"APP"},{"x":5.04,"y":-0.317,"t":"APOE"},{"x":6.055,"y":-0.317,"t":"CRYAA"}]},"mark":{"type":"text","fontSize":36,"baseline":"middle","color":"#111"},"encoding":{"x":{"field":"x","type":"quantitative"},"y":{"field":"y","type":"quantitative"},"text":{"field":"t"}}},
{"data":{"values":[{"x":0.154,"y":0,"t":"0"},{"x":0.154,"y":1,"t":"1"},{"x":0.154,"y":2,"t":"2"},{"x":0.154,"y":3,"t":"3"}]},"mark":{"type":"text","fontSize":34,"baseline":"middle","color":"#111"},"encoding":{"x":{"field":"x","type":"quantitative"},"y":{"field":"y","type":"quantitative"},"text":{"field":"t"}}},
{"data":{"values":[{"x":-0.331,"y":1.41,"t":"Relative mRNA expression"}]},"mark":{"type":"text","fontSize":34,"angle":270,"baseline":"middle","color":"#111"},"encoding":{"x":{"field":"x","type":"quantitative"},"y":{"field":"y","type":"quantitative"},"text":{"field":"t"}}},
{"data":{"name":"geneBrackets"},"mark":{"type":"line","color":"#222","strokeWidth":2},"encoding":{"x":{"field":"x","type":"quantitative"},"y":{"field":"y","type":"quantitative"},"detail":{"field":"b"},"order":{"field":"i"}}},
{"data":{"values":[{"x":1.15,"y":1.307,"t":"**"},{"x":1.85,"y":2.24,"t":"*"},{"x":2.13,"y":2.98,"t":"*"},{"x":2.86,"y":3.3,"t":"*"}]},"mark":{"type":"text","fontSize":50,"fontWeight":"bold","baseline":"middle","dy":12,"color":"#111"},"encoding":{"x":{"field":"x","type":"quantitative"},"y":{"field":"y","type":"quantitative"},"text":{"field":"t"}}},
{"data":{"values":[{"x":3.15,"y":3.365,"t":"ns"}]},"mark":{"type":"text","fontSize":26,"baseline":"middle","color":"#111"},"encoding":{"x":{"field":"x","type":"quantitative"},"y":{"field":"y","type":"quantitative"},"text":{"field":"t"}}},
{"data":{"values":[{"x":-0.2,"y":3.33,"t":"G"}]},"mark":{"type":"text","fontWeight":"bold","fontSize":55,"baseline":"middle","color":"#111"},"encoding":{"x":{"field":"x","type":"quantitative"},"y":{"field":"y","type":"quantitative"},"text":{"field":"t"}}}]},
{"width":1,"height":1,"data":{"values":[]},"mark":"point"},

{"width":348,"height":360,"data":{"values":[{"x":1,"group":"ctrl","mean":470,"hi":824},{"x":2,"group":"si","mean":7530,"hi":9000},{"x":3,"group":"ko","mean":8350,"hi":10118}]},"encoding":{"x":{"field":"x","type":"quantitative","scale":{"domain":[-1.083,3.75],"nice":false,"zero":false},"axis":{"values":[1,2,3],"domain":false,"tickWidth":2,"tickSize":15,"labelFontSize":34,"labelLineHeight":48,"labelPadding":8,"labelExpr":"datum.value==1?['-','-']:datum.value==2?['+','-']:['+','+']","title":["Sodium iodate","NORAD KO"],"titleFontSize":35,"titleLineHeight":48,"titleAlign":"right","titleBaseline":"top","titleX":131,"titleY":24}},"y":{"field":"mean","type":"quantitative","stack":null,"scale":{"domain":[0,15000],"nice":false},"axis":{"offset":-103,"values":[0,5000,10000,15000],"domainWidth":2,"tickWidth":2,"tickSize":16,"labelFontSize":34,"labelPadding":4,"labelExpr":"datum.value==0?'0':datum.value==5000?'5×10³':(datum.value/10000)+'×10⁴'","title":"Mean of fluorescence intisity","titleFontSize":36,"titleX":-178,"titleY":143,"titleBaseline":"middle"}},"color":{"field":"group","type":"nominal","legend":null,"scale":{"domain":["ctrl","si","ko"],"range":["#e8141c","#1f4aa5","#2bb033"]}}},"layer":[
{"mark":{"type":"rule","strokeWidth":2},"encoding":{"y2":{"field":"hi"}}},
{"mark":{"type":"tick","orient":"horizontal","size":28,"thickness":2},"encoding":{"y":{"field":"hi","type":"quantitative"}}},
{"mark":{"type":"bar","filled":false,"orient":"vertical","size":46,"strokeWidth":3.2}},
{"data":{"values":[{"start":0.347,"end":3.667,"y":0}]},"mark":{"type":"rule","strokeWidth":2},"encoding":{"x":{"field":"start","type":"quantitative"},"x2":{"field":"end"},"y":{"field":"y","type":"quantitative"},"color":{"value":"#111"}}},
{"data":{"values":[{"b":1,"i":1,"x":1,"y":9700},{"b":1,"i":2,"x":1,"y":9940},{"b":1,"i":3,"x":1.98,"y":9940},{"b":1,"i":4,"x":1.98,"y":9700},{"b":2,"i":1,"x":2.04,"y":11000},{"b":2,"i":2,"x":2.04,"y":11235},{"b":2,"i":3,"x":3,"y":11235},{"b":2,"i":4,"x":3,"y":11000}]},"mark":{"type":"line","strokeWidth":1.8},"encoding":{"x":{"field":"x","type":"quantitative"},"y":{"field":"y","type":"quantitative"},"detail":{"field":"b"},"order":{"field":"i"},"color":{"value":"#222"}}},
{"data":{"values":[{"x":1.53,"y":10880,"t":"*"}]},"mark":{"type":"text","fontSize":50,"fontWeight":"bold","baseline":"middle","dy":12},"encoding":{"x":{"field":"x","type":"quantitative"},"y":{"field":"y","type":"quantitative"},"text":{"field":"t"},"color":{"value":"#111"}}},
{"data":{"values":[{"x":2.5,"y":12235,"t":"ns"}]},"mark":{"type":"text","fontSize":26,"baseline":"middle"},"encoding":{"x":{"field":"x","type":"quantitative"},"y":{"field":"y","type":"quantitative"},"text":{"field":"t"},"color":{"value":"#111"}}}]},
{"width":346,"height":360,"data":{"values":[{"x":1,"group":"ctrl","mean":16080,"hi":17250},{"x":2,"group":"si","mean":21180,"hi":23530},{"x":3,"group":"ko","mean":32350,"hi":40400}]},"encoding":{"x":{"field":"x","type":"quantitative","scale":{"domain":[-1.055,3.717],"nice":false,"zero":false},"axis":{"values":[1,2,3],"domain":false,"tickWidth":2,"tickSize":15,"labelFontSize":34,"labelLineHeight":48,"labelPadding":8,"labelExpr":"datum.value==1?['-','-']:datum.value==2?['+','-']:['+','+']","title":["Sodium iodate","NORAD KO"],"titleFontSize":35,"titleLineHeight":48,"titleAlign":"right","titleBaseline":"top","titleX":130,"titleY":24}},"y":{"field":"mean","type":"quantitative","stack":null,"scale":{"domain":[0,50000],"nice":false},"axis":{"offset":-102,"values":[0,10000,20000,30000,40000,50000],"domainWidth":2,"tickWidth":2,"tickSize":16,"labelFontSize":34,"labelPadding":4,"labelExpr":"datum.value==0?'0':(datum.value/10000)+'×10⁴'","title":"Mean of fluorescence intisity","titleFontSize":36,"titleX":-155,"titleY":143,"titleBaseline":"middle"}},"color":{"field":"group","type":"nominal","legend":null,"scale":{"domain":["ctrl","si","ko"],"range":["#e8141c","#1f4aa5","#2bb033"]}}},"layer":[
{"mark":{"type":"rule","strokeWidth":2},"encoding":{"y2":{"field":"hi"}}},
{"mark":{"type":"tick","orient":"horizontal","size":28,"thickness":2},"encoding":{"y":{"field":"hi","type":"quantitative"}}},
{"mark":{"type":"bar","filled":false,"orient":"vertical","size":46,"strokeWidth":3.2}},
{"data":{"values":[{"start":0.352,"end":3.648,"y":0}]},"mark":{"type":"rule","strokeWidth":2},"encoding":{"x":{"field":"start","type":"quantitative"},"x2":{"field":"end"},"y":{"field":"y","type":"quantitative"},"color":{"value":"#111"}}},
{"data":{"values":[{"b":1,"i":1,"x":1,"y":25700},{"b":1,"i":2,"x":1,"y":26470},{"b":1,"i":3,"x":1.98,"y":26470},{"b":1,"i":4,"x":1.98,"y":25700},{"b":2,"i":1,"x":2.02,"y":42550},{"b":2,"i":2,"x":2.02,"y":43300},{"b":2,"i":3,"x":3,"y":43300},{"b":2,"i":4,"x":3,"y":42550}]},"mark":{"type":"line","strokeWidth":1.8},"encoding":{"x":{"field":"x","type":"quantitative"},"y":{"field":"y","type":"quantitative"},"detail":{"field":"b"},"order":{"field":"i"},"color":{"value":"#222"}}},
{"data":{"values":[{"x":1.55,"y":29600,"t":"*"}]},"mark":{"type":"text","fontSize":50,"fontWeight":"bold","baseline":"middle","dy":12},"encoding":{"x":{"field":"x","type":"quantitative"},"y":{"field":"y","type":"quantitative"},"text":{"field":"t"},"color":{"value":"#111"}}},
{"data":{"values":[{"x":2.5,"y":46670,"t":"ns"}]},"mark":{"type":"text","fontSize":26,"baseline":"middle"},"encoding":{"x":{"field":"x","type":"quantitative"},"y":{"field":"y","type":"quantitative"},"text":{"field":"t"},"color":{"value":"#111"}}}]}
]}
